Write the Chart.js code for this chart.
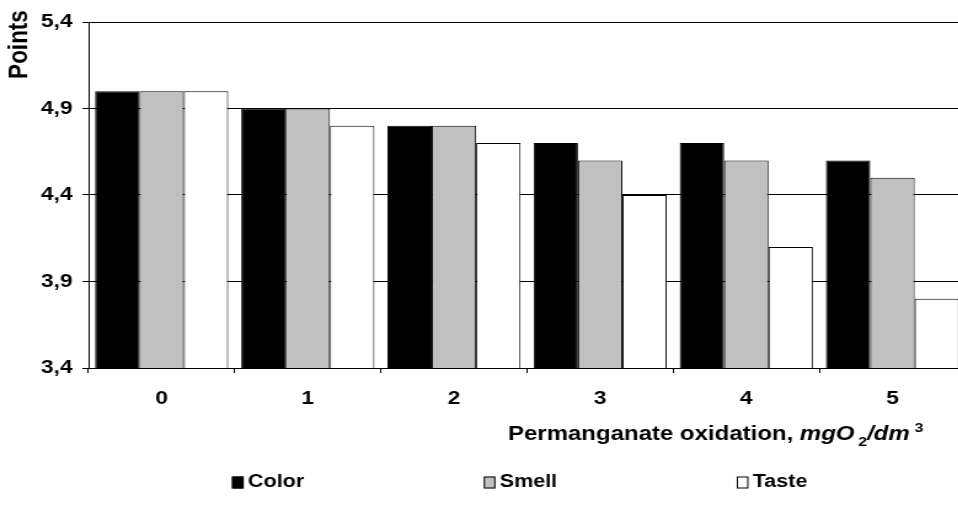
<!DOCTYPE html>
<html><head><meta charset="utf-8">
<script src="https://cdn.jsdelivr.net/npm/chart.js@4/dist/chart.umd.min.js"></script>
<style>
html,body{margin:0;padding:0;background:#fff;overflow:hidden;width:958px;height:505px;}
#wrap{width:785px;height:505px;transform:scaleX(1.23);transform-origin:0 0;}
canvas{display:block;}
</style></head><body>
<div id="wrap"><canvas id="c" width="785" height="505"></canvas></div>
<script>
// ---- data ----
const categories = ['0', '1', '2', '3', '4', '5'];
const seriesNames = ['Color', 'Smell', 'Taste'];
const colorValues = [5.0, 4.9, 4.8, 4.7, 4.7, 4.6];
const smellValues = [5.0, 4.9, 4.8, 4.6, 4.6, 4.5];
const tasteValues = [5.0, 4.8, 4.7, 4.4, 4.1, 3.8];
const yTickLabels = ['3,4', '3,9', '4,4', '4,9', '5,4'];
const yMin = 3.4, yMax = 5.4, yStep = 0.5;
const yTitle = 'Points';
const xTitleParts = [
  { text: 'Permanganate oxidation, ', kind: 'normal' },
  { text: 'mgO', kind: 'italic' },
  { text: '2', kind: 'sub' },
  { text: '/dm', kind: 'italic' },
  { text: '3', kind: 'sup' }
];

// ---- styles ----
const FONT = '"Liberation Sans", Arial, sans-serif';
const fills = ['#000000', '#C0C0C0', '#FFFFFF'];

const annotations = {
  id: 'annotations',
  afterDraw(chart) {
    const ctx = chart.ctx;
    // y axis title
    ctx.save();
    ctx.fillStyle = '#000';
    ctx.translate(15.5, 44.5);
    ctx.rotate(-Math.PI / 2);
    ctx.font = 'bold 22.5px ' + FONT;
    ctx.textAlign = 'center';
    ctx.textBaseline = 'middle';
    ctx.fillText(yTitle, 0, 0);
    ctx.restore();

    // x axis title with sub/superscript
    ctx.save();
    ctx.fillStyle = '#000';
    ctx.textAlign = 'left';
    ctx.textBaseline = 'alphabetic';
    let x = 413;
    const base = 440;
    for (const p of xTitleParts) {
      let font, dy = 0, pre = 0;
      if (p.kind === 'normal') font = 'bold 19.5px ' + FONT;
      else if (p.kind === 'italic') font = 'italic bold 19.5px ' + FONT;
      else if (p.kind === 'sub') { font = 'bold 13px ' + FONT; dy = 6; pre = 3; }
      else { font = 'bold 13px ' + FONT; dy = -8; pre = 4; }
      ctx.font = font;
      x += pre;
      ctx.fillText(p.text, x, base + dy);
      x += ctx.measureText(p.text).width;
    }
    ctx.restore();

    // legend
    ctx.save();
    ctx.font = 'bold 17.5px ' + FONT;
    ctx.textBaseline = 'middle';
    ctx.textAlign = 'left';
    const ly = 482.5;
    let lx = 188.6;
    chart.data.datasets.forEach((ds) => {
      ctx.fillStyle = ds.backgroundColor;
      ctx.fillRect(lx, ly - 6, 9.5, 12);
      ctx.strokeStyle = '#000';
      ctx.lineWidth = 1;
      ctx.strokeRect(lx + 0.5, ly - 5.5, 8.5, 11);
      ctx.fillStyle = '#000';
      ctx.fillText(ds.label, lx + 13, ly);
      lx += 13 + ctx.measureText(ds.label).width + 146;
    });
    ctx.restore();
  }
};

const valueSets = [colorValues, smellValues, tasteValues];

new Chart(document.getElementById('c'), {
  type: 'bar',
  data: {
    labels: categories,
    datasets: seriesNames.map((name, i) => ({
      label: name,
      data: valueSets[i],
      backgroundColor: fills[i],
      borderColor: '#000',
      borderWidth: 1,
      borderSkipped: false,
      categoryPercentage: 0.911,
      barPercentage: 1.0
    }))
  },
  options: {
    responsive: false,
    animation: false,
    devicePixelRatio: 1,
    layout: { padding: { top: 22, right: 0, bottom: 0, left: 0 } },
    plugins: { legend: { display: false }, tooltip: { enabled: false } },
    scales: {
      x: {
        offset: true,
        grid: { display: true, drawOnChartArea: false, drawTicks: true, tickLength: 5, color: '#000', offset: true },
        border: { display: true, color: '#000', width: 1 },
        ticks: { color: '#000', font: { family: FONT, size: 18.5, weight: 'bold' }, padding: 15, maxRotation: 0 },
        afterFit(scale) { scale.height = 137; }
      },
      y: {
        min: yMin,
        max: yMax,
        grid: { color: '#000', tickLength: 5, drawTicks: true },
        border: { display: true, color: '#000', width: 1 },
        ticks: {
          stepSize: yStep,
          color: '#000',
          font: { family: FONT, size: 18.5, weight: 'bold' },
          padding: 8,
          callback: (v, i) => yTickLabels[i]
        },
        afterFit(scale) { scale.width = 72; }
      }
    }
  },
  plugins: [annotations]
});
</script>
</body></html>
